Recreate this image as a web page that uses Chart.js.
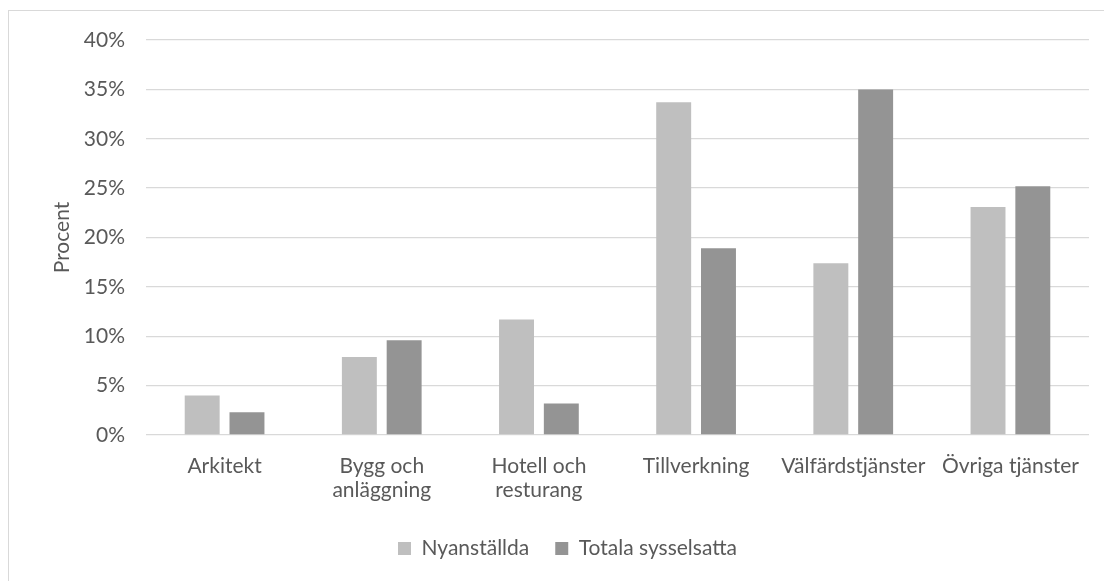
<!DOCTYPE html>
<html lang="sv">
<head>
<meta charset="utf-8">
<title>Nyanställda och totala sysselsatta per bransch</title>
<script src="https://cdn.jsdelivr.net/npm/chart.js@4/dist/chart.umd.min.js"></script>
<style>
  html, body { margin: 0; padding: 0; background: #fff; overflow: hidden; }
  #wrap { position: relative; width: 1104px; height: 581px; }
  /* the frame of the original chart object, cut off at right and bottom */
  #frame { position: absolute; left: 8px; top: 10px; width: 1200px; height: 700px;
           border: 1px solid #d9d9d9; box-sizing: border-box; }
  #chart { position: absolute; left: 0; top: 0; }
</style>
</head>
<body>
<div id="wrap">
  <div id="frame"></div>
  <canvas id="chart" width="1104" height="581"></canvas>
</div>
<script>
// Andel per bransch, i procent.
const categories = [
  'Arkitekt',
  ['Bygg och', 'anläggning'],
  ['Hotell och', 'resturang'],
  'Tillverkning',
  'Välfärdstjänster',
  'Övriga tjänster',
];
const nyanstallda = [4.0, 7.9, 11.7, 33.7, 17.4, 23.1];
const totalaSysselsatta = [2.3, 9.6, 3.2, 18.9, 35.0, 25.2];
const yTicks = [0, 5, 10, 15, 20, 25, 30, 35, 40];

const TEXT = '#595959';
const FONT = 'Lato, "Open Sans", sans-serif';
const SIZE = 21;

new Chart(document.getElementById('chart'), {
  type: 'bar',
  data: {
    labels: categories,
    datasets: [
      { label: 'Nyanställda', data: nyanstallda, backgroundColor: '#bfbfbf' },
      { label: 'Totala sysselsatta', data: totalaSysselsatta, backgroundColor: '#949494' },
    ],
  },
  options: {
    responsive: false,
    animation: false,
    devicePixelRatio: 1,
    layout: { padding: { left: 46, right: 15, top: 40, bottom: 12 } },
    datasets: { bar: { categoryPercentage: 0.57, barPercentage: 0.78 } },
    plugins: {
      legend: {
        position: 'bottom',
        labels: {
          color: TEXT,
          font: { family: FONT, size: SIZE },
          boxWidth: 13, boxHeight: 13, padding: 26,
        },
      },
      tooltip: { enabled: false },
    },
    scales: {
      x: {
        grid: { display: false, drawTicks: false },
        border: { display: false },
        ticks: {
          color: TEXT, padding: 19, maxRotation: 0, autoSkip: false,
          font: { family: FONT, size: SIZE, lineHeight: 1.15 },
        },
        afterFit: s => { s.height = 77; },
      },
      y: {
        min: 0, max: 40,
        afterBuildTicks: s => { s.ticks = yTicks.map(v => ({ value: v })); },
        grid: { color: '#d9d9d9', lineWidth: 1.3, drawTicks: false },
        border: { display: false },
        ticks: {
          color: TEXT, padding: 21,
          font: { family: FONT, size: SIZE },
          callback: v => v + '%',
        },
        title: {
          display: true, text: 'Procent', color: TEXT,
          font: { family: FONT, size: SIZE },
        },
        afterFit: s => { s.width = 100; },
      },
    },
  },
});
</script>
</body>
</html>
